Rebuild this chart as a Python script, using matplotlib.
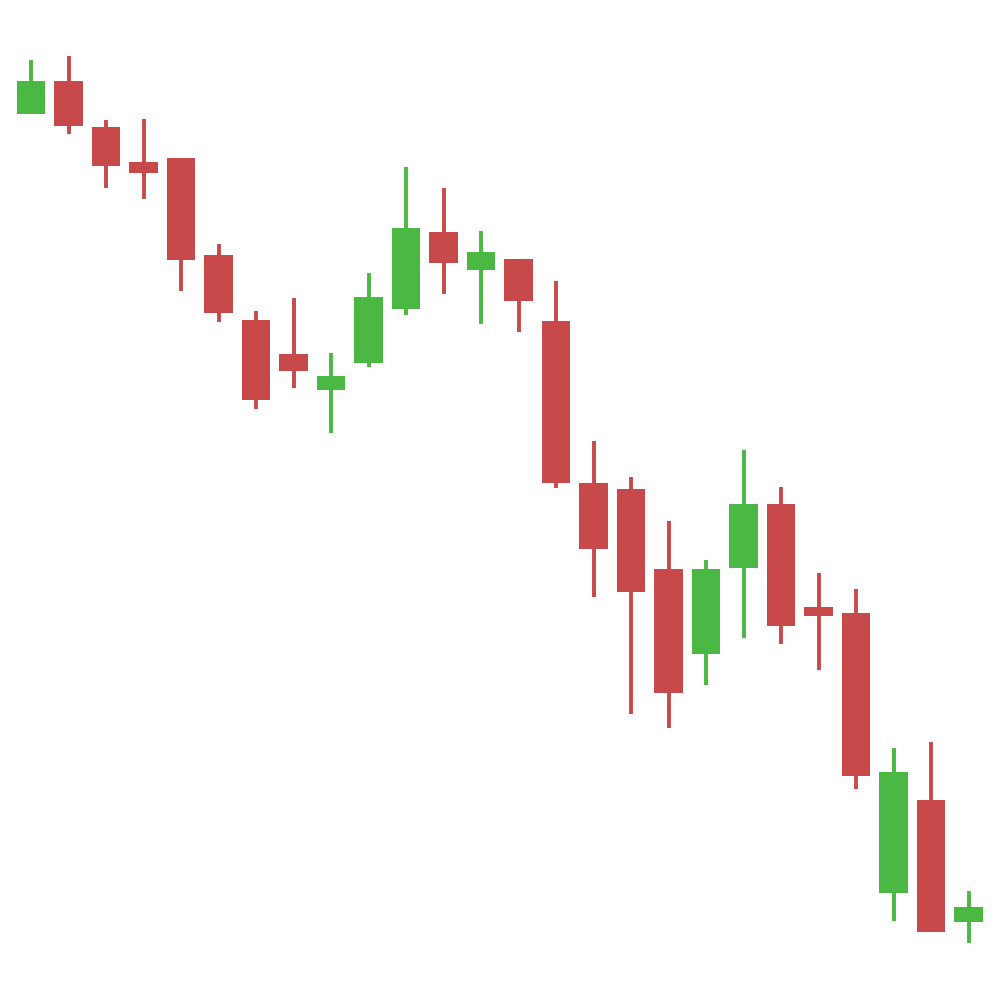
import matplotlib
matplotlib.use("Agg")
import matplotlib.pyplot as plt
from matplotlib.patches import Rectangle

# OHLC values (arbitrary price units)
opens = [886, 919, 873, 838, 842, 745, 680, 646, 610, 637, 691, 768, 730,
         741, 679, 517, 511, 431, 346, 432, 496, 393, 387, 107, 200, 78]
highs = [940, 944, 880, 881, 842, 756, 689, 702, 647, 727, 833, 812, 769,
         741, 719, 559, 523, 479, 440, 550, 513, 427, 411, 252, 258, 109]
lows = [886, 866, 812, 801, 709, 678, 591, 612, 567, 633, 685, 706, 676,
        668, 512, 403, 286, 272, 315, 362, 356, 330, 211, 79, 68, 57]
closes = [919, 874, 834, 827, 740, 687, 600, 629, 624, 703, 772, 737, 748,
          699, 517, 451, 408, 307, 431, 496, 374, 384, 224, 228, 68, 93]

up_color = "#4BB843"
down_color = "#C8494A"
body_width = 0.76

fig = plt.figure(figsize=(10, 10), dpi=100)
ax = fig.add_axes([0, 0, 1, 1])

for i, (o, h, l, c) in enumerate(zip(opens, highs, lows, closes)):
    color = up_color if c >= o else down_color
    # wick
    ax.plot([i, i], [l, h], color=color, linewidth=2.8, solid_capstyle="butt", zorder=1)
    # body
    bottom = min(o, c)
    height = abs(c - o)
    ax.add_patch(Rectangle((i - body_width / 2, bottom), body_width, height,
                           facecolor=color, edgecolor="none", zorder=2))

ax.set_xlim(-31 / 37.5, (1000 - 31) / 37.5)
ax.set_ylim(0, 1000)
ax.axis("off")

fig.savefig("out.png", dpi=100, facecolor="white")
